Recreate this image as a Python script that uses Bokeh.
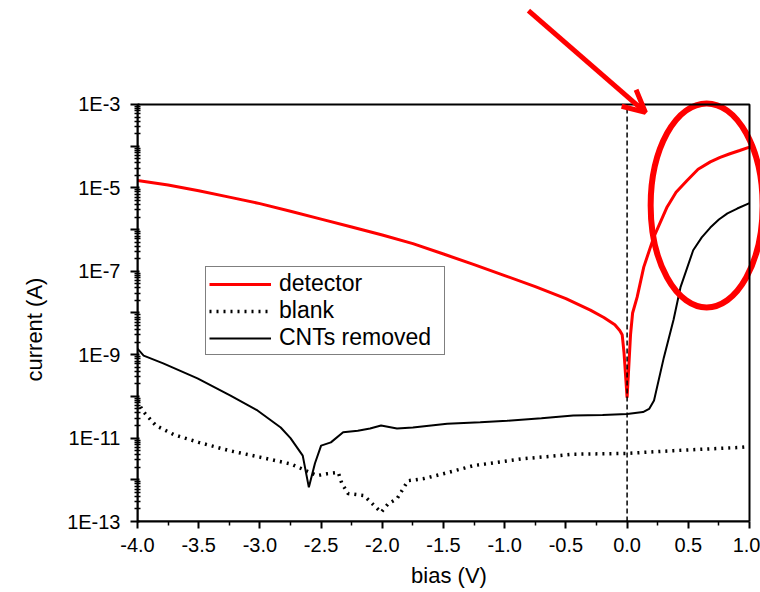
from bokeh.plotting import figure
from bokeh.models import (FixedTicker, CustomJSTickFormatter, Arrow, OpenHead,
                          Legend, LegendItem, Range1d, BoxAnnotation, Title)
from bokeh.embed import file_html
from bokeh.resources import INLINE

# ---- data ----
detector_bias = [-4.00, -3.75, -3.50, -3.25, -3.00, -2.75, -2.50, -2.25, -2.00, -1.75,
                 -1.50, -1.25, -1.00, -0.75, -0.50, -0.30, -0.19, -0.10, -0.06, -0.04,
                 -0.025, 0.00, 0.028, 0.045, 0.082, 0.136, 0.218, 0.327, 0.40, 0.49,
                 0.58, 0.68, 0.76, 0.84, 0.92, 1.00]
detector_current = [1.5e-5, 1.17e-5, 8.5e-6, 6.0e-6, 4.2e-6, 2.75e-6, 1.78e-6, 1.15e-6, 7.4e-7, 4.6e-7,
                    2.6e-7, 1.45e-7, 7.9e-8, 4.3e-8, 2.2e-8, 1.17e-8, 7.8e-9, 5.2e-9, 3.8e-9, 3.0e-9,
                    1.1e-9, 9.3e-11, 3.0e-9, 1.0e-8, 2.4e-8, 1.26e-7, 6.6e-7, 3.5e-6, 7.9e-6, 1.51e-5,
                    2.8e-5, 4.2e-5, 5.4e-5, 6.6e-5, 7.9e-5, 9.5e-5]

blank_bias = [-4.00, -3.96, -3.85, -3.70, -3.50, -3.25, -3.00, -2.75, -2.53, -2.45,
              -2.36, -2.33, -2.28, -2.15, -2.01, -1.95, -1.88, -1.79, -1.66, -1.50,
              -1.25, -0.85, -0.44, 0.00, 0.38, 0.93, 1.00]
blank_current = [8.0e-11, 4.6e-11, 2.0e-11, 1.2e-11, 7.9e-12, 5.0e-12, 3.5e-12, 2.4e-12, 1.26e-12, 1.4e-12,
                 1.5e-12, 8.1e-13, 4.7e-13, 4.2e-13, 1.66e-13, 2.7e-13, 3.5e-13, 9.5e-13, 1.07e-12, 1.4e-12,
                 2.2e-12, 3.2e-12, 4.1e-12, 4.3e-12, 5.0e-12, 6.0e-12, 6.3e-12]

cnt_bias = [-4.00, -3.95, -3.79, -3.51, -3.24, -3.02, -2.83, -2.75, -2.65, -2.60,
            -2.55, -2.50, -2.42, -2.32, -2.20, -2.10, -2.01, -1.88, -1.75, -1.47,
            -1.20, -0.98, -0.70, -0.44, -0.20, 0.00, 0.13, 0.18, 0.22, 0.30,
            0.38, 0.436, 0.54, 0.61, 0.68, 0.75, 0.82, 0.90, 1.00]
cnt_current = [1.4e-9, 9.5e-10, 6.2e-10, 2.7e-10, 1.05e-10, 4.6e-11, 1.8e-11, 1.0e-11, 3.8e-12, 6.6e-13,
               2.5e-12, 6.6e-12, 7.9e-12, 1.38e-11, 1.5e-11, 1.7e-11, 2.0e-11, 1.7e-11, 1.8e-11, 2.2e-11,
               2.4e-11, 2.6e-11, 3.0e-11, 3.5e-11, 3.6e-11, 3.8e-11, 4.2e-11, 5.0e-11, 8.0e-11, 8.5e-10,
               7.0e-9, 4.1e-8, 3.2e-7, 6.5e-7, 1.12e-6, 1.75e-6, 2.45e-6, 3.2e-6, 4.3e-6]

series_labels = ["detector", "blank", "CNTs removed"]

x_min, x_max = -4.0, 1.0
y_min, y_max = 1e-13, 1e-3

x_ticks = [-4.0, -3.5, -3.0, -2.5, -2.0, -1.5, -1.0, -0.5, 0.0, 0.5, 1.0]
x_tick_labels = ["-4.0", "-3.5", "-3.0", "-2.5", "-2.0", "-1.5", "-1.0", "-0.5", "0.0", "0.5", "1.0"]
x_minor_ticks = [-3.75, -3.25, -2.75, -2.25, -1.75, -1.25, -0.75, -0.25, 0.25, 0.75]

y_decade_exps = [-13, -12, -11, -10, -9, -8, -7, -6, -5, -4, -3]
y_label_exps = [-13, -11, -9, -7, -5, -3]
y_tick_labels = ["1E-13", "1E-11", "1E-9", "1E-7", "1E-5", "1E-3"]

FONT = "Liberation Sans"

# frame extends past the boxed data area so the call-out arrow/ellipse can overflow it
p = figure(width=760, height=592, y_axis_type="log",
           x_range=Range1d(x_min, 1.0899), y_range=Range1d(y_min, 10 ** -0.506),
           output_backend="svg", toolbar_location=None,
           min_border_left=137, min_border_right=0, min_border_top=0, min_border_bottom=71)

p.xgrid.visible = False
p.ygrid.visible = False
p.background_fill_color = "white"
p.border_fill_color = "white"
p.outline_line_color = None

# box around the data area
p.add_layout(BoxAnnotation(left=x_min, right=x_max, bottom=y_min, top=y_max,
                           fill_alpha=0, line_color="black", line_alpha=1.0, line_width=2))

# axes
p.xaxis.bounds = (x_min, x_max)
p.yaxis.bounds = (y_min, y_max)
p.xaxis.ticker = FixedTicker(ticks=x_ticks, minor_ticks=x_minor_ticks)
p.xaxis.formatter = CustomJSTickFormatter(args=dict(vals=x_ticks, labels=x_tick_labels), code="""
    let best = 0;
    for (let i = 0; i < vals.length; i++) {
        if (Math.abs(vals[i] - tick) < Math.abs(vals[best] - tick)) best = i;
    }
    return labels[best];
""")
y_decades = [10.0 ** e for e in y_decade_exps]
y_minor = [m * 10.0 ** e for e in y_decade_exps[:-1] for m in range(2, 10)]
p.yaxis.ticker = FixedTicker(ticks=y_decades, minor_ticks=y_minor)
p.yaxis.formatter = CustomJSTickFormatter(args=dict(exps=y_label_exps, labels=y_tick_labels), code="""
    const e = Math.round(Math.log10(tick));
    const i = exps.indexOf(e);
    return i >= 0 ? labels[i] : "";
""")

for ax in (p.xaxis[0], p.yaxis[0]):
    ax.axis_line_width = 2
    ax.axis_line_color = "black"
    ax.major_tick_line_color = "black"
    ax.minor_tick_line_color = "black"
    ax.major_tick_line_width = 2
    ax.minor_tick_line_width = 1.5
    ax.major_label_text_font = FONT
    ax.major_label_text_font_size = "20px"
    ax.major_label_text_color = "black"
    ax.axis_label_text_font = FONT
    ax.axis_label_text_font_style = "normal"
    ax.axis_label_text_font_size = "22px"
    ax.axis_label_text_color = "black"

p.xaxis.axis_label = "bias (V)"
p.xaxis.major_tick_out = 7
p.xaxis.major_tick_in = 0
p.xaxis.minor_tick_out = 4
p.xaxis.minor_tick_in = 0
p.xaxis.major_label_standoff = 9
p.xaxis.axis_label_standoff = 8

p.yaxis.axis_label = None
p.yaxis.major_tick_out = 7
p.yaxis.major_tick_in = 2
p.yaxis.minor_tick_out = 3
p.yaxis.minor_tick_in = 3
p.yaxis.major_label_standoff = 10

# y-axis title, placed beside the boxed data area (offset measured up from the frame bottom)
p.add_layout(Title(text="current (A)", align="left", offset=140, standoff=34,
                   vertical_align="middle",
                   text_font=FONT, text_font_size="22px", text_font_style="normal",
                   text_color="black"), "left")

# curves
r_det = p.line(detector_bias, detector_current, line_color="#ff0000", line_width=3)
r_blank = p.line(blank_bias, blank_current, line_color="black", line_width=3.5, line_dash="2 5")
r_cnt = p.line(cnt_bias, cnt_current, line_color="black", line_width=2)

# dashed zero-bias line inside the box
p.segment(x0=[0.0], y0=[y_min], x1=[0.0], y1=[y_max], line_color="black",
          line_width=1.5, line_dash="5 3")

# legend
legend = Legend(items=[LegendItem(label=series_labels[0], renderers=[r_det]),
                       LegendItem(label=series_labels[1], renderers=[r_blank]),
                       LegendItem(label=series_labels[2], renderers=[r_cnt])],
                location=(68, 166), orientation="vertical",
                label_text_font=FONT, label_text_font_size="23px", label_text_color="black",
                glyph_width=62, glyph_height=20, label_height=20, label_width=162,
                label_standoff=8, padding=3, spacing=0, margin=0,
                border_line_color="black", border_line_width=1.5,
                background_fill_color="white", background_fill_alpha=1.0)
p.add_layout(legend)

# highlight ellipse and arrow
p.ellipse(x=[0.65], y=[3.8e-6], width=112, height=204, width_units="screen",
          height_units="screen", fill_color=None, line_color="#ff0000", line_width=6)
p.add_layout(Arrow(end=OpenHead(size=22, line_color="#ff0000", line_width=5),
                   x_start=-0.806, y_start=10 ** -0.75, x_end=0.15, y_end=10 ** -3.19,
                   line_color="#ff0000", line_width=5))

open("out.html", "w").write(file_html(p, INLINE))
